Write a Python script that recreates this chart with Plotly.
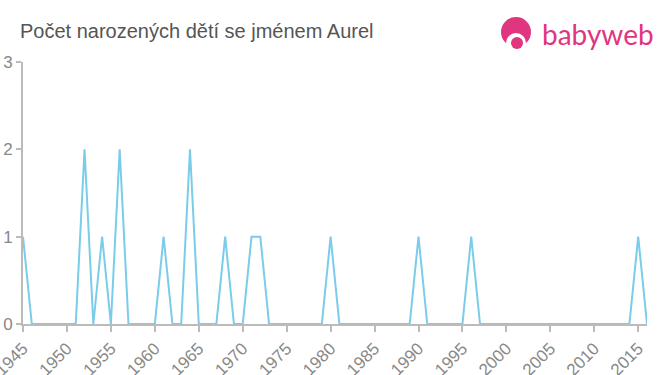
import plotly.graph_objects as go

years = list(range(1945, 2017))
counts_nonzero = {1945: 1, 1952: 2, 1954: 1, 1956: 2, 1961: 1, 1964: 2, 1968: 1,
                  1971: 1, 1972: 1, 1980: 1, 1990: 1, 1996: 1, 2015: 1}
counts = [counts_nonzero.get(y, 0) for y in years]
tick_years = list(range(1945, 2016, 5))
title = "Počet narozených dětí se jménem Aurel"

L, R, T, B = 23, 13, 62, 51
W, H = 660, 375

fig = go.Figure()
fig.add_trace(go.Scatter(x=years, y=counts, mode="lines",
                         line=dict(color="#7accea", width=2), hoverinfo="x+y"))

fig.update_layout(
    width=W, height=H,
    margin=dict(l=L, r=R, t=T, b=B, autoexpand=False),
    paper_bgcolor="white", plot_bgcolor="white",
    showlegend=False,
    font=dict(family="Liberation Sans, Arial, sans-serif", color="#888"),
    title=dict(text=title, x=20 / W, xanchor="left", y=1 - 31 / H, yanchor="middle",
               font=dict(size=20, color="#555")),
)
fig.update_xaxes(range=[1944.999, 2016], tickvals=tick_years, ticktext=[str(t) for t in tick_years],
                 tickangle=-45, showgrid=False, showline=True, linecolor="#bbb", linewidth=2,
                 ticks="outside", tickcolor="#bbb", ticklen=6, tickwidth=2, automargin=False,
                 ticklabeloverflow="allow",
                 tickfont=dict(size=17, color="#888"), zeroline=False)
fig.update_yaxes(range=[0, 3], tickvals=[0, 1, 2, 3], showgrid=False, showline=True,
                 linecolor="#bbb", linewidth=2, ticks="outside", ticklen=5, tickcolor="#bbb",
                 tickwidth=2, automargin=False, ticklabeloverflow="allow",
                 tickfont=dict(size=17, color="#888"), zeroline=False)

# logo
pink = "#e0357f"
fig.add_annotation(xref="paper", yref="paper", x=(540 - L) / (W - L - R), y=(H - B - 34) / (H - T - B),
                   xanchor="left", yanchor="middle", text="babyweb", showarrow=False,
                   font=dict(size=28, color=pink, family="Lato, Noto Sans, sans-serif"))

def px(x, y):
    pw = W - L - R
    ph = H - T - B
    return (x - L) / pw, (H - B - y) / ph

def circ(xa, ya, xb, yb, color):
    x0, y0 = px(xa, ya)
    x1, y1 = px(xb, yb)
    fig.add_shape(type="circle", xref="paper", yref="paper", x0=x0, y0=y1, x1=x1, y1=y0,
                  fillcolor=color, line_width=0, layer="above")

circ(501, 17, 531, 47, pink)
circ(506, 33, 526, 53, "white")
circ(511, 37, 523, 49, pink)

fig.write_html("out.html")
